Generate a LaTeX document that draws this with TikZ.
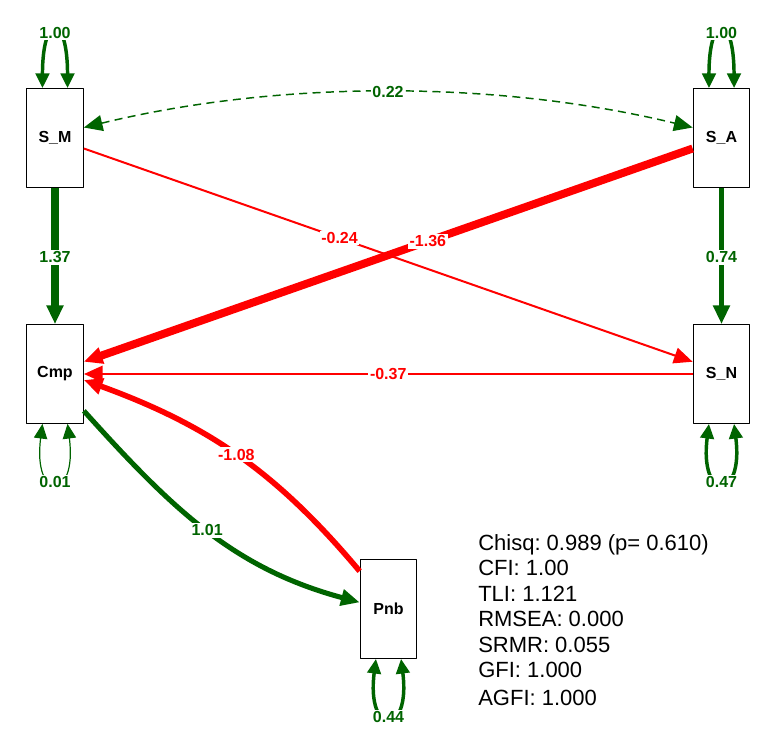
\documentclass[tikz,border=0pt]{standalone}
\usepackage{fontspec}
\setmainfont{Liberation Sans}
\usepackage{xcolor}
\usetikzlibrary{arrows.meta}
\definecolor{semgreen}{RGB}{0,100,0}
\definecolor{semred}{RGB}{255,0,0}
\frenchspacing

\begin{document}
\begin{tikzpicture}[line cap=butt,line join=round,x=0.75pt,y=-0.75pt,
  >={Triangle[length=14pt,width=12pt]},
  var/.style={draw,rectangle,line width=0.8pt,minimum width=42.5pt,minimum height=74pt,inner sep=0pt,font=\fontsize{12}{14}\selectfont\bfseries},
  lab/.style={fill=white,inner sep=1.2pt,font=\fontsize{12}{14}\selectfont\bfseries},
  gr/.style={draw=semgreen,text=semgreen},
  rd/.style={draw=semred,text=semred},
  looptip/.style={{Triangle[length=11pt,width=10pt]}-{Triangle[length=11pt,width=10pt]}}]
\useasboundingbox (0,0) rectangle (765,732);
% variables
\node[var] (S_M) at (55,138) {S\_M};
\node[var] (S_A) at (721.5,138) {S\_A};
\node[var] (Cmp) at (55,374) {Cmp};
\node[var] (S_N) at (721.5,374) {S\_N};
\node[var] (Pnb) at (388.5,609) {Pnb};
% variances
\draw[gr,line width=2.6pt,looptip] ([xshift=9.4pt]S_M.north) .. controls +(0,-76) and +(0,-76) .. ([xshift=-9.4pt]S_M.north);
\node[lab,text=semgreen] (vS_M) at (55,33) {1.00};
\draw[gr,line width=2.6pt,looptip] ([xshift=9.4pt]S_A.north) .. controls +(0,-76) and +(0,-76) .. ([xshift=-9.4pt]S_A.north);
\node[lab,text=semgreen] (vS_A) at (721.5,33) {1.00};
\draw[gr,line width=0.9pt,looptip] ([xshift=-9.4pt]Cmp.south) .. controls +(-10,78) and +(10,78) .. ([xshift=9.4pt]Cmp.south);
\node[lab,text=semgreen] (vCmp) at (55,482) {0.01};
\draw[gr,line width=2.6pt,looptip] ([xshift=-9.4pt]S_N.south) .. controls +(-10,78) and +(10,78) .. ([xshift=9.4pt]S_N.south);
\node[lab,text=semgreen] (vS_N) at (721.5,482) {0.47};
\draw[gr,line width=2.6pt,looptip] ([xshift=-9.4pt]Pnb.south) .. controls +(-10,78) and +(10,78) .. ([xshift=9.4pt]Pnb.south);
\node[lab,text=semgreen] (vPnb) at (388.5,717) {0.44};
% covariance
\draw[gr,line width=1.1pt,dash pattern=on 6pt off 4pt,<->] (S_M.20) .. controls (280,80) and (496,80) .. (S_A.160)
  node[lab,pos=0.5] (c022) {0.22};
% regressions
\draw[gr,line width=5.5pt,->] (S_M) -- (Cmp) node[lab,pos=0.51] (r137) {1.37};
\draw[gr,line width=4pt,->] (S_A) -- (S_N) node[lab,pos=0.51] (r074) {0.74};
\draw[rd,line width=1.5pt,->] (S_M.-20) -- (S_N.157) node[lab,pos=0.42] (r024) {-0.24};
\draw[rd,line width=6pt,->] (S_A.200) -- (Cmp.23) node[lab,pos=0.435] (r136) {-1.36};
\draw[rd,line width=2.2pt,->] (S_N) -- (Cmp) node[lab,pos=0.5] (r037) {-0.37};
\draw[gr,line width=3.8pt,->] ([yshift=9.75pt]Cmp.south east) to[out=-48,in=165] node[lab,pos=0.5] (r101) {1.01} ([yshift=5pt]Pnb.west);
\draw[rd,line width=4.2pt,->] ([yshift=-9pt]Pnb.north west) to[out=130,in=-20] node[lab,pos=0.5] (r108) {-1.08} ([yshift=-4.5pt]Cmp.east);
% fit measures
\node[anchor=base west,align=left,inner sep=0pt,font=\fontsize{16.5}{19.1}\selectfont] (fit) at (478,705)
  {Chisq: 0.989 (p= 0.610)\\CFI: 1.00\\TLI: 1.121\\RMSEA: 0.000\\SRMR: 0.055\\GFI: 1.000\\[1.5pt]AGFI: 1.000};
\end{tikzpicture}
\end{document}
